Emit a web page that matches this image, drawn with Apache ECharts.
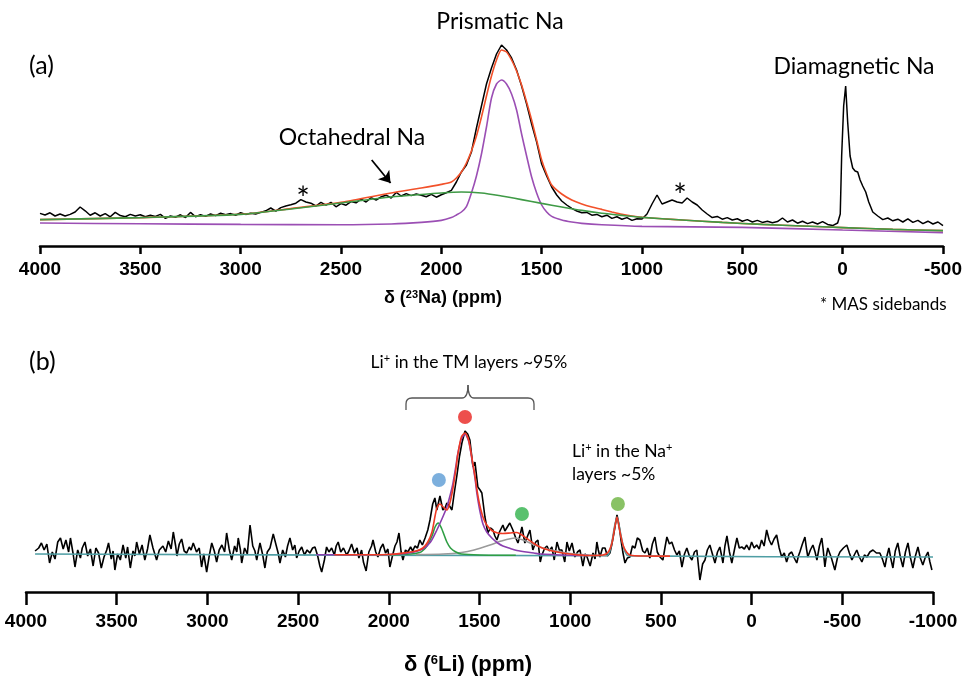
<!DOCTYPE html>
<html>
<head>
<meta charset="utf-8">
<script src="https://cdn.jsdelivr.net/npm/echarts@6/dist/echarts.min.js"></script>
<style>
  html, body { margin: 0; padding: 0; background: #fff; }
  #main { width: 965px; height: 684px; }
</style>
</head>
<body>
<div id="main"></div>
<script>
// ---- (a) 23Na MAS NMR, [shift ppm, intensity] ----
const naSpectrum = [
  [4000,16.3],[3975,15.5],[3950,16.6],[3925,15.0],[3900,16.0],[3875,15.0],[3850,15.8],[3825,17.0],[3800,19.5],[3775,17.6],
  [3750,15.4],[3725,16.6],[3700,15.0],[3675,16.2],[3650,14.6],[3625,16.8],[3600,15.2],[3575,14.6],[3550,15.8],[3525,15.0],
  [3500,15.6],[3475,14.6],[3450,15.4],[3425,14.8],[3400,15.8],[3375,13.8],[3350,15.0],[3325,14.4],[3300,15.6],[3275,14.2],
  [3250,16.8],[3225,14.6],[3200,15.6],[3175,14.8],[3150,16.0],[3125,15.2],[3100,16.4],[3075,15.6],[3050,16.2],[3025,15.4],
  [3000,16.6],[2975,15.8],[2950,16.4],[2925,16.0],[2900,16.8],[2875,17.6],[2850,19.0],[2825,17.4],[2800,19.2],[2775,20.0],
  [2750,20.6],[2725,21.4],[2700,23.2],[2675,22.0],[2650,21.4],[2625,20.0],[2600,21.8],[2575,20.4],[2550,21.8],[2525,19.6],
  [2500,21.2],[2475,20.4],[2450,22.2],[2425,21.6],[2400,23.4],[2375,22.0],[2350,24.2],[2325,23.0],[2300,24.6],[2275,25.4],
  [2250,24.0],[2225,26.8],[2200,25.0],[2175,26.2],[2150,25.2],[2125,26.0],[2100,25.4],[2075,24.6],[2050,25.8],[2025,24.4],
  [2000,25.6],[1975,26.6],[1950,27.8],[1925,32],[1900,37],[1875,40.5],[1850,47],[1825,59],[1800,70],[1775,81],
  [1750,89],[1725,96],[1700,100.5],[1675,98],[1650,94],[1625,88],[1600,80],[1575,71],[1550,61],[1525,52],
  [1500,41],[1475,35],[1450,29.5],[1425,25.5],[1400,22.5],[1375,20.5],[1350,18.8],[1325,17.5],[1300,16.6],[1275,16.8],
  [1250,15.4],[1225,15.8],[1200,14.6],[1175,15.4],[1150,13.8],[1125,14.6],[1100,13.4],[1075,14.2],[1050,12.8],[1025,13.6],
  [1000,13.5],[975,16],[950,21],[925,25.5],[900,21],[875,22],[850,23],[825,22],[800,21.5],[775,24],
  [750,22],[725,20.5],[700,18],[675,16],[650,14.2],[625,14.8],[600,13.4],[575,14.2],[550,13.0],[525,13.6],
  [500,12.4],[475,13.2],[450,12.0],[425,12.8],[400,11.8],[375,12.4],[350,11.6],[325,12.2],[300,14.0],[275,12.0],
  [250,13.0],[225,11.4],[200,12.4],[175,11.2],[150,12.0],[125,11.0],[100,12.2],[75,10.8],[50,10.2],[25,11.5],
  [12,16],[5,45],[-5,70],[-15,80],[-25,62],[-37,45],[-50,39],[-62,37.5],[-75,37],[-87,33],
  [-100,30],[-115,27],[-130,22],[-150,17],[-175,15],[-200,13.2],[-225,14.0],[-250,12.6],[-275,13.4],[-300,12.0],
  [-325,13.6],[-350,11.8],[-375,12.8],[-400,11.2],[-425,12.4],[-450,11.0],[-475,12.0],[-500,10.2]
];
const naFit = [
  [4000,13.2],[3500,14.2],[3000,15.9],[2750,18.7],[2500,21.8],[2250,26.5],[2100,29],[2000,30.8],[1950,32],[1925,34],
  [1900,37],[1875,41.5],[1850,47.5],[1825,55],[1800,64.5],[1775,75],[1750,85],[1725,93],[1700,98],[1675,97],
  [1650,93],[1625,87.5],[1600,80.5],[1575,72],[1550,63],[1525,53],[1500,43],[1475,36],[1450,30.5],[1400,26],
  [1350,23],[1300,21],[1250,19.5],[1200,18.3],[1150,17],[1100,15.8],[1050,15],[1000,14.4],[900,13.6],[800,13],
  [600,11.8],[400,10.8],[200,10],[0,9.2],[-250,8.3],[-500,7.7]
];
const naPrismatic = [
  [4000,11.5],[3500,11.1],[3000,10.8],[2500,10.6],[2250,11],[2100,11.8],[2000,12.8],[1950,14.2],[1925,15.5],[1900,17],
  [1875,19.7],[1850,26.5],[1825,35],[1800,46],[1775,59.5],[1750,74],[1725,81],[1700,83],[1675,81],[1650,76],
  [1625,68],[1600,56],[1575,45],[1550,34.5],[1525,26.5],[1500,20.5],[1475,17],[1450,14.8],[1400,13],[1350,12],
  [1300,11.3],[1200,10.6],[1000,9.8],[500,9.3],[0,8],[-500,6.7]
];
const naOctahedral = [
  [4000,13.2],[3500,14.2],[3000,15.8],[2750,18.5],[2500,21.5],[2250,24.5],[2000,26.5],[1900,27],[1800,26.5],[1700,25],
  [1600,23.2],[1500,21.3],[1400,19.5],[1300,17.8],[1200,16.4],[1100,15.3],[1000,14.3],[800,13],[600,11.8],[400,10.8],
  [200,10],[0,9.2],[-250,8.3],[-500,7.7]
];
const naArrow = [[2347, 43], [2253, 31.5]];

// ---- (b) 6Li MAS NMR, [shift ppm, intensity] ----
const liSpectrum = [
  [3950,3],[3930,6],[3915,11],[3900,4],[3885,10],[3870,-9],[3855,2],[3840,-5],[3825,12],[3810,16],
  [3795,5],[3780,14],[3765,2],[3755,16],[3740,0],[3730,-13],[3715,4],[3700,-4],[3690,6],[3675,12],
  [3660,-2],[3645,5],[3630,-12],[3615,6],[3600,1],[3585,-14],[3570,-3],[3555,4],[3545,11],[3530,-5],
  [3520,3],[3510,-16],[3495,0],[3480,-6],[3465,9],[3450,-4],[3440,7],[3425,-14],[3410,3],[3400,-2],
  [3390,12],[3375,0],[3360,9],[3345,-6],[3330,5],[3317,19],[3300,6],[3280,-6],[3265,4],[3245,8],
  [3230,2],[3215,13],[3200,5],[3188,22],[3175,8],[3168,-2],[3155,10],[3142,15],[3128,3],[3114,1],
  [3100,7],[3090,4],[3078,11],[3060,2],[3045,6],[3032,-13],[3020,0],[3004,-18],[2990,-2],[2976,11],
  [2962,3],[2949,-8],[2935,4],[2920,9],[2905,2],[2894,21],[2880,5],[2866,-6],[2850,8],[2838,2],
  [2830,16],[2818,4],[2811,-9],[2795,6],[2780,0],[2765,29],[2750,8],[2738,3],[2728,-6],[2718,4],
  [2710,11],[2695,-1],[2683,-14],[2670,2],[2655,6],[2637,20],[2620,8],[2610,1],[2600,-9],[2585,4],
  [2570,-3],[2558,8],[2545,16],[2530,4],[2518,9],[2508,-4],[2494,3],[2480,7],[2465,-1],[2450,4],
  [2435,1],[2420,6],[2407,7],[2392,-2],[2380,-12],[2370,-18],[2355,-6],[2343,7],[2330,2],[2315,6],
  [2300,-1],[2290,8],[2279,12],[2265,2],[2250,6],[2232,-1],[2220,3],[2205,10],[2190,1],[2175,6],
  [2165,-4],[2150,4],[2140,-8],[2125,-17],[2110,2],[2095,8],[2087,14],[2072,2],[2060,-3],[2045,6],
  [2032,10],[2018,1],[2005,5],[1994,-13],[1980,-2],[1966,8],[1955,12],[1944,21],[1932,2],[1922,-6],
  [1908,4],[1895,2],[1880,7],[1868,3],[1856,8],[1842,6],[1829,14],[1815,9],[1800,16],[1785,24],
  [1773,34],[1758,50],[1746,56],[1735,44],[1718,58],[1702,44],[1690,46],[1680,51],[1665,48],[1652,44],
  [1640,60],[1625,78],[1610,98],[1597,111],[1580,123],[1565,120],[1553,114],[1536,87],[1525,92],[1509,67],
  [1497,64],[1487,61],[1470,37],[1454,21],[1440,26],[1426,24],[1415,18],[1404,14],[1390,22],[1371,29],
  [1360,23],[1349,21],[1333,31],[1316,24],[1300,16],[1288,11],[1275,20],[1266,27],[1250,11],[1235,18],
  [1222,24],[1206,4],[1190,12],[1178,14],[1165,-8],[1156,-1],[1140,6],[1128,8],[1115,3],[1101,7],
  [1088,-6],[1073,12],[1060,4],[1046,4],[1030,-8],[1018,12],[1005,3],[990,11],[974,-3],[960,2],
  [946,4],[930,-12],[918,0],[907,-3],[890,-12],[874,1],[863,-5],[853,12],[845,4],[836,-3],
  [822,6],[808,6],[795,-2],[781,1],[770,10],[759,21],[742,39],[730,28],[720,14],[710,2],
  [698,-9],[685,-4],[671,-3],[657,8],[643,6],[630,16],[616,14],[600,3],[588,1],[575,6],
  [561,-4],[547,10],[533,17],[520,2],[505,-3],[489,-6],[478,6],[467,17],[453,10],[440,12],
  [425,4],[412,-1],[398,3],[384,-13],[370,0],[357,6],[343,-2],[329,-6],[315,2],[302,4],
  [293,-12],[285,-26],[270,-10],[257,-6],[244,4],[230,9],[216,0],[202,-9],[188,2],[175,7],
  [165,-2],[158,-9],[147,8],[136,18],[122,2],[109,-9],[95,4],[81,16],[68,6],[54,7],
  [40,5],[27,9],[13,4],[0,12],[-14,6],[-28,9],[-42,5],[-55,14],[-69,8],[-83,24],
  [-97,14],[-110,9],[-124,15],[-138,19],[-152,6],[-166,-3],[-180,1],[-193,-8],[-207,0],[-221,2],
  [-235,-4],[-249,-9],[-258,-2],[-266,2],[-280,10],[-294,17],[-302,6],[-310,-3],[-324,4],[-338,9],
  [-350,2],[-360,-6],[-374,8],[-387,16],[-395,4],[-404,-13],[-412,-2],[-420,6],[-440,-4],[-459,-16],
  [-473,-4],[-487,2],[-506,6],[-525,9],[-539,1],[-553,-6],[-566,-1],[-580,4],[-594,-3],[-608,-8],
  [-622,-1],[-636,-3],[-652,2],[-669,4],[-688,1],[-707,1],[-721,-5],[-735,-13],[-746,-2],[-757,6],
  [-768,-5],[-779,-14],[-792,3],[-806,11],[-820,-3],[-834,-13],[-848,2],[-862,11],[-876,-4],[-889,-14],
  [-903,-2],[-917,7],[-930,-4],[-944,-11],[-958,-3],[-972,2],[-983,-8],[-994,-16]
];
const liFit = [
  [2300,-0.8],[2000,-0.5],[1900,1.5],[1850,3],[1812,6],[1785,12],[1762,22],[1745,38],
  [1735,46],[1718,50],[1700,47],[1680,44],[1665,50],[1647,65],[1630,85],[1620,99],[1600,117],[1580,121],
  [1560,114],[1542,96],[1525,78],[1514,64],[1500,50],[1481,37],[1460,29],[1432,23.5],[1400,21],[1371,20.5],
  [1330,21],[1294,21.5],[1270,19.5],[1239,15.5],[1200,10.5],[1167,7],[1120,4],[1073,2],[1000,0],[900,-1.5],
  [820,-1],[790,2],[770,11],[755,26],[742,37],[730,26],[709,9],[690,2],[671,-1],[600,-2],[450,-2.1]
];
const liMain = [
  [2400,-0.8],[2000,-0.5],[1900,0.7],[1812,5],[1770,12],[1735,24],[1700,38],[1680,47],[1660,60],
  [1647,70],[1630,88],[1620,100],[1600,115],[1580,120],[1560,113],[1542,95],[1525,76],[1514,60],[1500,45],
  [1481,30],[1460,22],[1432,16],[1400,11],[1371,8],[1330,5.5],[1294,3.5],[1200,1],[1167,0],[1000,-1.2],
  [900,-1.5]
];
const liSite1 = [
  [2000,-0.8],[1880,0],[1830,1.5],[1812,3.5],[1790,8],[1762,18],[1745,27],[1727,31],[1710,26],
  [1695,19],[1680,12],[1660,6],[1630,2],[1600,0],[1500,-1],[1300,-1.3]
];
const liSite3 = [
  [1850,-0.6],[1700,0],[1600,1.5],[1530,4],[1442,9],[1380,13],[1305,16],[1260,14],[1222,11],
  [1150,6],[1073,2.7],[1000,0.5],[900,-1],[800,-1.6]
];
const liNaLayer = [
  [3950,0],[800,-1.8],[785,1],[770,12],[755,28],[742,37],[728,26],[709,9],[695,1],[680,-1.9],
  [-1000,-3]
];
const liDotShift = [1580, 1724, 1266, 737];
const liDotHeight = [137, 74, 40, 50];
const liDotColors = ['#e8231f', '#5b9bd5', '#2fb24a', '#6cb33f'];

const chart = echarts.init(document.getElementById('main'));

const tickFont = {
  fontFamily: 'Liberation Sans', fontWeight: 'bold', fontSize: 19, color: '#000',
  formatter: v => String(v)
};

function line(data, color, width, xi, z) {
  return {
    type: 'line', xAxisIndex: xi, yAxisIndex: xi, data: data,
    showSymbol: false, symbol: 'none', smooth: false, z: z,
    lineStyle: { color: color, width: width }, silent: true
  };
}
function fit(data, color, xi, z) {
  const s = line(data, color, 1.6, xi, z);
  s.smooth = 0.25;
  return s;
}

const calibri = 'Lato';
const bracketStyle = { stroke: '#555', lineWidth: 1.3, fill: null };
const supRich = (size, sub) => ({
  n: { fontFamily: calibri, fontSize: size },
  s: { fontFamily: calibri, fontSize: sub, verticalAlign: 'top' }
});
const boldRich = (size, sub) => ({
  n: { fontFamily: 'Liberation Sans', fontWeight: 'bold', fontSize: size },
  s: { fontFamily: 'Liberation Sans', fontWeight: 'bold', fontSize: sub, verticalAlign: 'top' }
});
function note(x, y, text, size, align) {
  return {
    type: 'text', x: x, y: y,
    style: { text: text, fontFamily: calibri, fontSize: size, fill: '#000', textAlign: align || 'center', textVerticalAlign: 'middle' }
  };
}

const option = {
  animation: false,
  backgroundColor: '#fff',
  grid: [
    { left: 40, right: 21, top: 36, bottom: 438 },
    { left: 26, right: 32, top: 412, bottom: 92 }
  ],
  xAxis: [
    {
      gridIndex: 0, type: 'value', min: -500, max: 4000, interval: 500, inverse: true,
      axisLine: { show: true, onZero: false, lineStyle: { color: '#000', width: 2.5 } },
      axisTick: { show: true, length: 8, lineStyle: { color: '#000', width: 2.5 } },
      axisLabel: Object.assign({ margin: 14 }, tickFont),
      splitLine: { show: false }
    },
    {
      gridIndex: 1, type: 'value', min: -1000, max: 4000, interval: 500, inverse: true,
      axisLine: { show: true, onZero: false, lineStyle: { color: '#000', width: 2.5 } },
      axisTick: { show: true, length: 13, lineStyle: { color: '#000', width: 2.5 } },
      axisLabel: Object.assign({ margin: 20 }, tickFont),
      splitLine: { show: false }
    }
  ],
  yAxis: [
    { gridIndex: 0, type: 'value', min: 0, max: 105, show: false },
    { gridIndex: 1, type: 'value', min: -38, max: 142, show: false }
  ],
  series: [
    Object.assign(line(naSpectrum, '#000', 1.5, 0, 2), {
      markLine: {
        silent: true, symbol: ['none', 'arrow'], symbolSize: 11,
        label: { show: false },
        lineStyle: { color: '#000', width: 1.8, type: 'solid' },
        data: [[{ coord: naArrow[0] }, { coord: naArrow[1] }]]
      }
    }),
    fit(naFit, '#f2512a', 0, 3),
    fit(naPrismatic, '#9b4fb4', 0, 3),
    fit(naOctahedral, '#3f9a46', 0, 4),

    line(liSpectrum, '#000', 1.6, 1, 2),
    fit(liNaLayer, '#4f9ea4', 1, 3),
    fit(liSite3, '#9a9a9a', 1, 4),
    fit(liSite1, '#2f9e44', 1, 4),
    fit(liMain, '#8a3fae', 1, 4),
    fit(liFit, '#ee3a24', 1, 5),
    {
      type: 'scatter', xAxisIndex: 1, yAxisIndex: 1, symbolSize: 14, z: 6, silent: true,
      data: liDotShift.map((x, i) => ({ value: [x, liDotHeight[i]], itemStyle: { color: liDotColors[i] } }))
    }
  ],
  graphic: [
    note(500, 22, 'Prismatic Na', 23),
    note(29, 66, '(a)', 25, 'left'),
    note(352, 138, 'Octahedral Na', 23),
    note(854, 67, 'Diamagnetic Na', 23),
    note(303, 200, '*', 32),
    note(680, 197, '*', 32),
    {
      type: 'text', x: 443, y: 298,
      style: { text: '{n|δ (}{s|23}{n|Na) (ppm)}', textAlign: 'center', textVerticalAlign: 'middle', fill: '#000', rich: boldRich(18, 11) }
    },
    note(820, 305, '* MAS sidebands', 17, 'left'),

    note(29, 362, '(b)', 25, 'left'),
    {
      type: 'text', x: 469, y: 362,
      style: { text: '{n|Li}{s|+}{n| in the TM layers ~95%}', textAlign: 'center', textVerticalAlign: 'middle', fill: '#000', rich: supRich(17.5, 11) }
    },
    // curly bracket over the TM-layer sites
    { type: 'line', shape: { x1: 406, y1: 410, x2: 406, y2: 404 }, style: bracketStyle },
    { type: 'bezierCurve', shape: { x1: 406, y1: 404, cpx1: 406, cpy1: 398, x2: 412, y2: 398 }, style: bracketStyle },
    { type: 'line', shape: { x1: 412, y1: 398, x2: 462, y2: 398 }, style: bracketStyle },
    { type: 'bezierCurve', shape: { x1: 462, y1: 398, cpx1: 468, cpy1: 398, x2: 468, y2: 385 }, style: bracketStyle },
    { type: 'bezierCurve', shape: { x1: 468, y1: 385, cpx1: 468, cpy1: 398, x2: 474, y2: 398 }, style: bracketStyle },
    { type: 'line', shape: { x1: 474, y1: 398, x2: 528, y2: 398 }, style: bracketStyle },
    { type: 'bezierCurve', shape: { x1: 528, y1: 398, cpx1: 534, cpy1: 398, x2: 534, y2: 404 }, style: bracketStyle },
    { type: 'line', shape: { x1: 534, y1: 404, x2: 534, y2: 410 }, style: bracketStyle },
    {
      type: 'text', x: 572, y: 451,
      style: { text: '{n|Li}{s|+}{n| in the Na}{s|+}', textAlign: 'left', textVerticalAlign: 'middle', fill: '#000', rich: supRich(17.5, 11) }
    },
    note(572, 474, 'layers ~5%', 17.5, 'left'),
    {
      type: 'text', x: 468, y: 665,
      style: { text: '{n|δ (}{s|6}{n|Li) (ppm)}', textAlign: 'center', textVerticalAlign: 'middle', fill: '#000', rich: boldRich(22, 13) }
    }
  ]
};

chart.setOption(option);
</script>
</body>
</html>
